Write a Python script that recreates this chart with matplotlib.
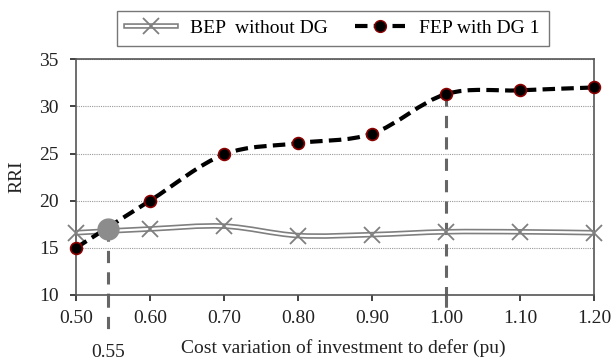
import matplotlib.pyplot as plt
from matplotlib.path import Path
from matplotlib.patches import PathPatch
from matplotlib.lines import Line2D
from matplotlib.legend_handler import HandlerTuple

cost = [0.50, 0.60, 0.70, 0.80, 0.90, 1.00, 1.10, 1.20]
bep_without_dg = [16.6, 17.0, 17.3, 16.3, 16.4, 16.7, 16.7, 16.6]
fep_with_dg1 = [15.0, 20.0, 24.9, 26.1, 27.1, 31.3, 31.7, 32.0]
tick_labels = ["0.50", "0.60", "0.70", "0.80", "0.90", "1.00", "1.10", "1.20"]
cross_x, cross_y = 0.543, 17.0
mark_x = [0.543, 1.00]
mark_top = [17.0, 31.3]

plt.rcParams["font.family"] = ["Liberation Serif", "DejaVu Serif"]
FS = 14
TXT = "#222222"


def smooth_path(xs, ys):
    # Catmull-Rom style bezier, like Excel "smoothed line"
    verts = [(xs[0], ys[0])]
    codes = [Path.MOVETO]
    n = len(xs)
    for i in range(n - 1):
        x0, y0 = (xs[i - 1], ys[i - 1]) if i > 0 else (xs[i], ys[i])
        x1, y1 = xs[i], ys[i]
        x2, y2 = xs[i + 1], ys[i + 1]
        x3, y3 = (xs[i + 2], ys[i + 2]) if i + 2 < n else (x2, y2)
        c1 = (x1 + (x2 - x0) / 6, y1 + (y2 - y0) / 6)
        c2 = (x2 - (x3 - x1) / 6, y2 - (y3 - y1) / 6)
        verts += [c1, c2, (x2, y2)]
        codes += [Path.CURVE4] * 3
    return Path(verts, codes)


fig = plt.figure(figsize=(6.14, 3.6), dpi=100)
ax = fig.add_axes([0.1238, 0.1806, 0.8436, 0.655])

ax.set_xlim(0.5, 1.2)
ax.set_ylim(10, 35)
ax.set_yticks([10, 15, 20, 25, 30, 35])
ax.set_xticks(cost)
ax.set_xticklabels(tick_labels)
ax.grid(axis="y", color="#999999", linestyle=(0, (1, 1)), linewidth=0.8)
ax.set_axisbelow(True)
for s in ax.spines.values():
    s.set_color("#555555")
    s.set_linewidth(1.2)
ax.tick_params(labelsize=FS, colors=TXT, length=4.5, width=1.2, direction="out")
ax.tick_params(axis="y", pad=8)
ax.tick_params(axis="x", pad=6)

# BEP double line
bp = smooth_path(cost, bep_without_dg)
ax.add_patch(PathPatch(bp, facecolor="none", edgecolor="#7f7f7f", lw=4.0, zorder=3))
ax.add_patch(PathPatch(bp, facecolor="none", edgecolor="white", lw=1.6, zorder=3))
ax.plot(cost, bep_without_dg, linestyle="none", marker="x", markersize=11,
        mew=1.3, color="#7f7f7f", zorder=4, clip_on=False)

# FEP dashed
fp = smooth_path(cost, fep_with_dg1)
ax.add_patch(PathPatch(fp, facecolor="none", edgecolor="black", lw=3.0,
                       linestyle=(0, (3, 1.5)), zorder=5))
ax.plot(cost, fep_with_dg1, linestyle="none", marker="o", markersize=8.5,
        mfc="black", mec="#8b0000", mew=1.2, zorder=6, clip_on=False)

# vertical markers
for mx, my in zip(mark_x, mark_top):
    ax.plot([mx, mx], [my, 10], color="#666666", lw=2.2,
            linestyle=(0, (4, 3)), zorder=2)
ax.plot([mark_x[0], mark_x[0]], [10, 5.7], color="#666666", lw=2.2,
        linestyle=(0, (4, 3)), clip_on=False, zorder=2)
ax.plot([mark_x[1], mark_x[1]], [10, 8.6], color="#666666", lw=2.2,
        linestyle=(0, (4, 3)), clip_on=False, zorder=2)
ax.plot([cross_x], [cross_y], marker="o", markersize=15, color="#8c8c8c",
        zorder=7)

ax.text(cross_x, 3.95, "0.55", ha="center", va="center", fontsize=FS, color=TXT)
fig.text(0.559, 0.033, "Cost variation of investment to defer (pu)",
         ha="center", va="center", fontsize=FS, color=TXT)
fig.text(0.028, 0.508, "RRI", rotation=90, ha="center", va="center",
         fontsize=FS, color=TXT)

h_bep = (Line2D([], [], color="#7f7f7f", lw=4.0),
         Line2D([], [], color="white", lw=1.6),
         Line2D([], [], color="#7f7f7f", linestyle="none", marker="x",
                markersize=11, mew=1.3))
h_fep = Line2D([], [], color="black", lw=3.0, linestyle=(0, (3, 1.5)),
               marker="o", markersize=8.5, mfc="black", mec="#8b0000")
leg = fig.legend([h_bep, h_fep], ["BEP  without DG", "FEP with DG 1"],
                 handler_map={tuple: HandlerTuple(ndivide=1, pad=0)},
                 loc="center", bbox_to_anchor=(0.542, 0.921), ncol=2,
                 fontsize=FS, frameon=True, fancybox=False, edgecolor="#555555",
                 handlelength=2.6, handletextpad=0.7, columnspacing=1.4,
                 borderpad=0.45, borderaxespad=0)
leg.get_frame().set_linewidth(1.0)

fig.savefig("out.png", dpi=100)
